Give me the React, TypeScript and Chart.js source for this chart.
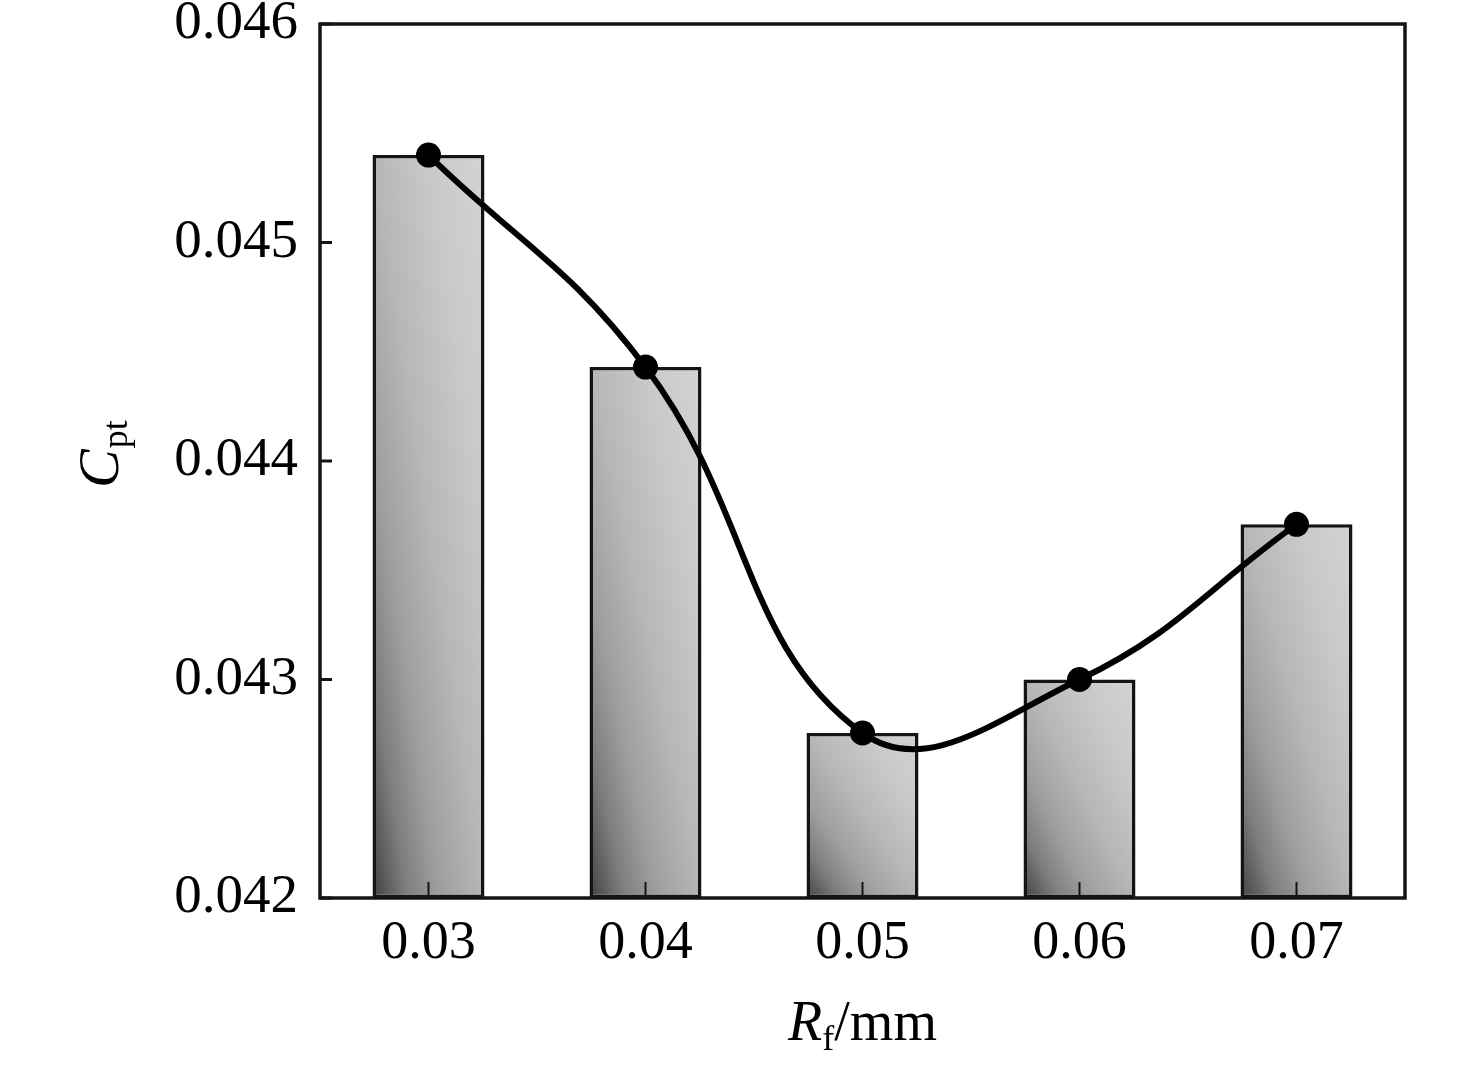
import { useEffect, useRef } from "react"
import { Chart, registerables } from "chart.js"

Chart.register(...registerables)

// R_f (mm) categories and C_pt values
const radii = ["0.03", "0.04", "0.05", "0.06", "0.07"]
const cpt = [0.0454, 0.04443, 0.042755, 0.043, 0.04371]
const yTicks = [0.042, 0.043, 0.044, 0.045, 0.046]

const SERIF = '"Liberation Serif", "Times New Roman", serif'
const BAR_PCT = 0.516
const INK = "#141414"

// diagonal grey gradient, dark in the bottom-left corner of each bar
function barFill(c: any) {
  const chart = c.chart
  const area = chart.chartArea
  const i = c.dataIndex
  if (!area || i === undefined || !chart.scales.x) return "#c8c8c8"
  const xs = chart.scales.x
  const ys = chart.scales.y
  const w = (xs.width / radii.length) * BAR_PCT
  const left = xs.getPixelForValue(i) - w / 2
  const bottom = area.bottom
  const h = Math.max(bottom - ys.getPixelForValue(cpt[i]), 1)
  const t = 2 / (1 / (w * w) + 1 / (h * h))
  const g = chart.ctx.createLinearGradient(left, bottom, left + t / w, bottom - t / h)
  g.addColorStop(0, "#404040")
  g.addColorStop(0.15, "#7c7c7c")
  g.addColorStop(0.3, "#9e9e9e")
  g.addColorStop(0.5, "#b6b6b6")
  g.addColorStop(0.75, "#c9c9c9")
  g.addColorStop(1, "#d3d3d3")
  return g
}

const decor = {
  id: "decor",
  afterDraw(chart: any) {
    const { ctx, chartArea: a, scales } = chart
    const line = (x1: number, y1: number, x2: number, y2: number) => {
      ctx.beginPath()
      ctx.moveTo(x1, y1)
      ctx.lineTo(x2, y2)
      ctx.stroke()
    }
    ctx.save()
    ctx.strokeStyle = INK
    ctx.lineWidth = 3
    yTicks.forEach((v) => {
      const y = scales.y.getPixelForValue(v)
      line(a.left, y, a.left + 12, y)
    })
    ctx.lineWidth = 2
    radii.forEach((_, i) => {
      const x = scales.x.getPixelForValue(i)
      line(x, a.bottom, x, a.bottom - 16)
    })
    ctx.lineWidth = 3.5
    ctx.strokeRect(a.left, a.top, a.right - a.left, a.bottom - a.top)

    // x title: R_f/mm
    ctx.fillStyle = "#000"
    ctx.textBaseline = "alphabetic"
    ctx.textAlign = "left"
    const big = `56px ${SERIF}`
    const bigI = `italic 56px ${SERIF}`
    const small = `36px ${SERIF}`
    ctx.font = bigI
    const wR = ctx.measureText("R").width
    ctx.font = small
    const wf = ctx.measureText("f").width
    ctx.font = big
    const wmm = ctx.measureText("/mm").width
    let x = (a.left + a.right) / 2 - (wR + wf + wmm) / 2
    const by = 1040
    ctx.font = bigI
    ctx.fillText("R", x, by)
    x += wR
    ctx.font = small
    ctx.fillText("f", x, by + 10)
    x += wf
    ctx.font = big
    ctx.fillText("/mm", x, by)

    // y title: C_pt
    ctx.translate(118, 488)
    ctx.rotate(-Math.PI / 2)
    ctx.font = `italic 58px ${SERIF}`
    ctx.fillText("C", 0, 0)
    const wC = ctx.measureText("C").width
    ctx.font = small
    ctx.fillText("pt", wC + 1, 9)
    ctx.restore()
  },
}

export default function App() {
  const canvasRef = useRef<HTMLCanvasElement | null>(null)
  const chartRef = useRef<Chart | null>(null)

  useEffect(() => {
    document.body.style.margin = "0"
    if (!canvasRef.current) return
    const ctx = canvasRef.current.getContext("2d")
    if (!ctx) return
    if (chartRef.current) chartRef.current.destroy()

    chartRef.current = new Chart(ctx, {
      type: "bar",
      data: {
        labels: radii,
        datasets: [
          {
            type: "line",
            data: cpt,
            borderColor: "#000",
            borderWidth: 6,
            tension: 0.42,
            pointRadius: 12.5,
            pointBackgroundColor: "#000",
            pointBorderColor: "#000",
            pointBorderWidth: 0,
            order: 0,
          } as any,
          {
            type: "bar",
            data: cpt,
            backgroundColor: barFill,
            borderColor: INK,
            borderWidth: 3.5,
            borderSkipped: false,
            categoryPercentage: 1,
            barPercentage: BAR_PCT,
            base: 0.042,
            order: 1,
          } as any,
        ],
      },
      options: {
        responsive: false,
        animation: false,
        layout: { padding: { left: 0, top: 24, right: 71, bottom: 0 } },
        plugins: {
          legend: { display: false },
          tooltip: { enabled: false },
        },
        scales: {
          x: {
            grid: { display: false },
            border: { display: false },
            ticks: {
              color: "#000",
              padding: 5,
              font: { family: SERIF, size: 54 },
            },
            afterFit: (s: any) => {
              s.height = 171
              s.paddingLeft = 0
              s.paddingRight = 0
            },
          },
          y: {
            min: 0.042,
            max: 0.046,
            grid: { display: false },
            border: { display: false },
            afterBuildTicks: (s: any) => {
              s.ticks = yTicks.map((v) => ({ value: v }))
            },
            ticks: {
              color: "#000",
              padding: 14,
              font: { family: SERIF, size: 55 },
              callback: (v: any) => Number(v).toFixed(3),
            },
            afterFit: (s: any) => {
              s.width = 320
              s.paddingTop = 0
              s.paddingBottom = 0
            },
          },
        },
      },
      plugins: [decor],
    })

    return () => {
      if (chartRef.current) {
        chartRef.current.destroy()
        chartRef.current = null
      }
    }
  }, [])

  return (
    <div style={{ width: 1476, height: 1069, background: "#fff" }}>
      <canvas ref={canvasRef} width={1476} height={1069} style={{ display: "block" }}></canvas>
    </div>
  )
}
